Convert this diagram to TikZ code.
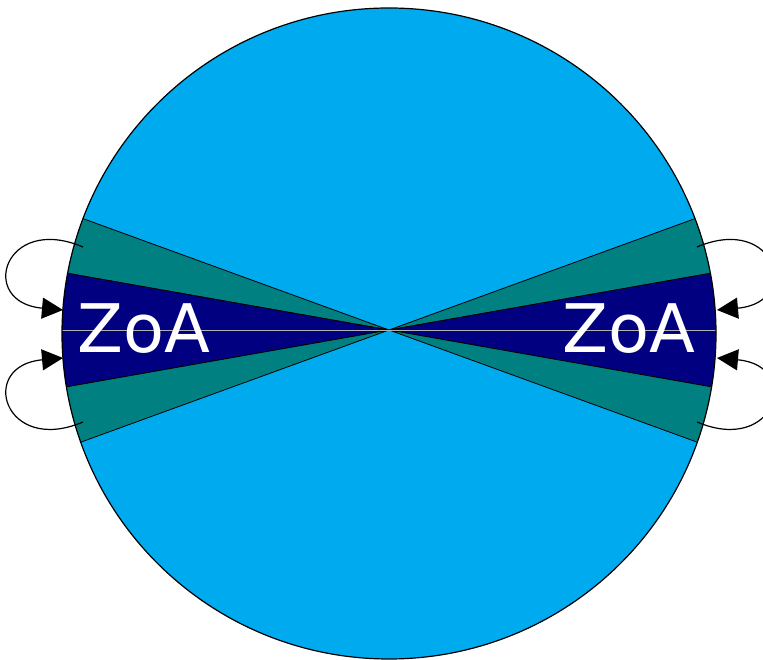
\documentclass[tikz,border=0pt]{standalone}
\usepackage{fontspec}
\newfontfamily\zoafont{DejaVu Sans}
\usetikzlibrary{arrows.meta}
\definecolor{skyblue}{RGB}{0,170,238}
\definecolor{zoateal}{RGB}{0,128,128}
\definecolor{zoanavy}{RGB}{0,0,128}
\tikzset{
  sky/.style={fill=skyblue, draw=black, line width=1.2pt},
  band/.style={fill=zoateal, draw=black, line width=0.8pt},
  core/.style={fill=zoanavy, draw=black, line width=0.8pt},
  midline/.style={draw=gray!60, line width=0.7pt},
  zoa/.style={text=white, font=\zoafont\fontsize{67}{70}\selectfont, inner sep=0pt},
  loop/.style={-{Triangle[length=21pt,width=21pt]}, line width=1.2pt}
}

\begin{document}
\begin{tikzpicture}[x=1pt,y=1pt]
  \useasboundingbox (0,0) rectangle (763,660);
  \coordinate (apex) at (389,330);
  \fill[skyblue] (389,326.5) ellipse [x radius=327, y radius=325.5];
  \begin{scope}
    \clip (389,326.5) ellipse [x radius=327, y radius=325.5];
    \draw[band] (apex) -- +(160:420) -- +(170:420) -- cycle;
    \draw[core] (apex) -- +(170:420) -- +(190:420) -- cycle;
    \draw[band] (apex) -- +(190:420) -- +(200:420) -- cycle;
    \draw[band] (apex) -- +(20:420) -- +(10:420) -- cycle;
    \draw[core] (apex) -- +(10:420) -- +(-10:420) -- cycle;
    \draw[band] (apex) -- +(-10:420) -- +(-20:420) -- cycle;
    \draw[midline] (apex) -- +(180:420);
    \draw[midline] (apex) -- +(0:420);
  \end{scope}
  \draw[line width=1.2pt] (389,326.5) ellipse [x radius=327, y radius=325.5];

  \node[zoa, anchor=base] (zoaleft) at (144,307) {ZoA};
  \node[zoa, anchor=base] (zoaright) at (629,307) {ZoA};

  \coordinate (ulstart) at (83,413);
  \coordinate (ultip) at (63,350);
  \coordinate (llstart) at (83,238);
  \coordinate (lltip) at (63,302);
  \coordinate (urstart) at (697,413);
  \coordinate (urtip) at (717,350);
  \coordinate (lrstart) at (697,238);
  \coordinate (lrtip) at (717,302);
  \draw[loop] (ulstart) .. controls +(157:86) and +(175:86) .. (ultip);
  \draw[loop] (llstart) .. controls +(203:86) and +(185:86) .. (lltip);
  \draw[loop] (urstart) .. controls +(23:86) and +(5:86) .. (urtip);
  \draw[loop] (lrstart) .. controls +(-23:86) and +(-5:86) .. (lrtip);
\end{tikzpicture}
\end{document}
